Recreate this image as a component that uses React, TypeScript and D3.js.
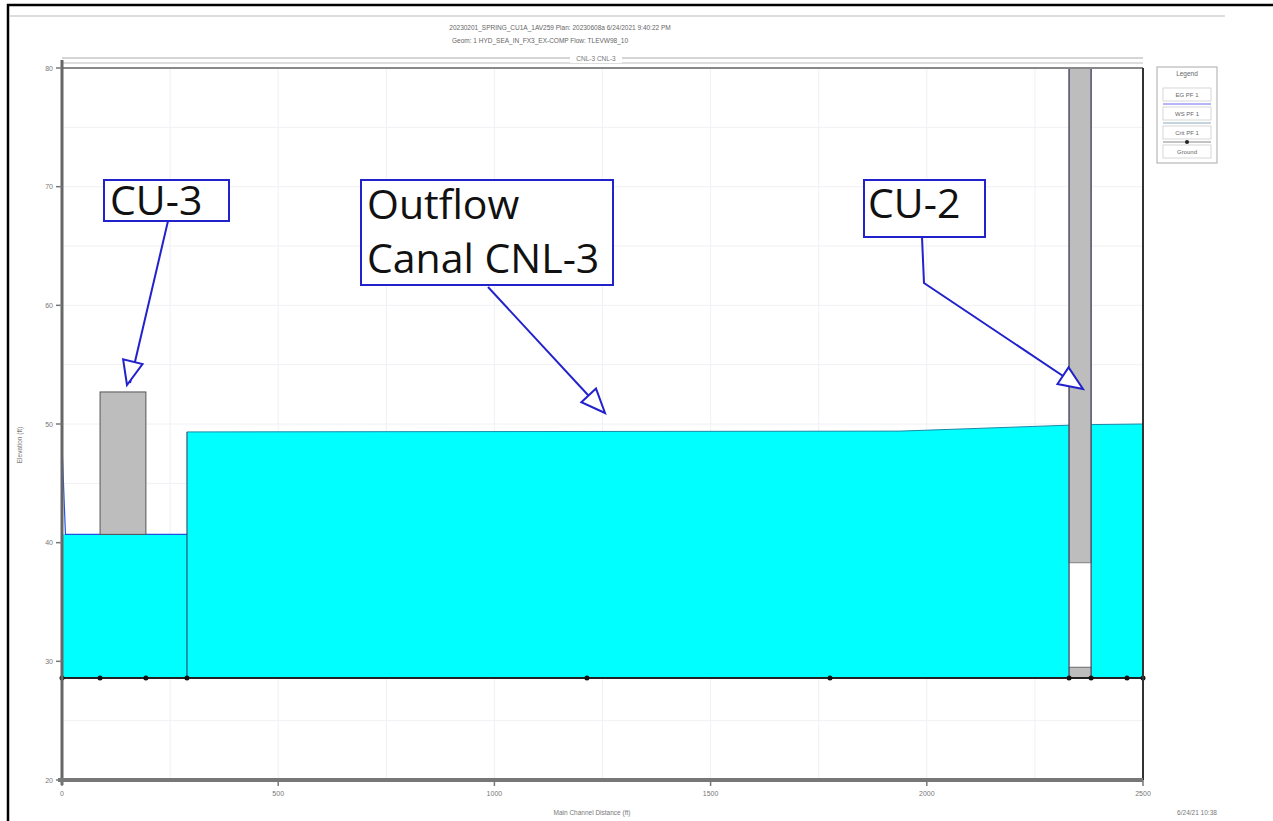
import React from "react";
import * as d3 from "d3";

const xTicks = [0, 500, 1000, 1500, 2000, 2500];
const yTicks = [20, 30, 40, 50, 60, 70, 80];
const groundStations = [0, 88, 194, 289, 1214, 1776, 2329, 2380, 2463, 2500];
const groundElev = [28.6, 28.6, 28.6, 28.6, 28.6, 28.6, 28.6, 28.6, 28.6, 28.6];
// water surface reaches [station, elevation]
const wsReach1: [number, number][] = [[0, 48.2], [8, 40.7], [289, 40.7]];
const wsReach2: [number, number][] = [[289, 49.33], [1938, 49.4], [2329, 49.9]];
const wsReach3: [number, number][] = [[2380, 49.95], [2500, 50.0]];
// structures
const cu3 = { x0: 88, x1: 194, bottom: 40.7, top: 52.7 };
const cu2 = { x0: 2329, x1: 2380, invert: 28.6, openBottom: 29.5, openTop: 38.3, top: 80 };
const legendItems = ["EG  PF 1", "WS  PF 1", "Crit  PF 1", "Ground"];
const titleLine1 = "20230201_SPRING_CU1A_1AV259        Plan: 20230608a     6/24/2021  9:40:22 PM";
const titleLine2 = "Geom: 1 HYD_SEA_IN_FX3_EX-COMP    Flow: TLEVW98_10";

export default function App() {
  const x = d3.scaleLinear().domain([0, 2500]).range([62, 1143]);
  const y = d3.scaleLinear().domain([20, 80]).range([780, 68]);
  const line = d3.line<[number, number]>().x(d => x(d[0])).y(d => y(d[1]));
  const ground = groundElev[0];
  const areaFill = (pts: [number, number][]) =>
    d3.area<[number, number]>().x(d => x(d[0])).y0(y(ground)).y1(d => y(d[1]))(
      pts[0][0] === 0 ? pts.slice(1).map((p, i) => (i === 0 ? [0, p[1]] as [number, number] : p)) : pts
    ) || "";
  const blue = "#2222cc";
  const minorX = d3.range(0, 2501, 250);
  const minorY = d3.range(20, 81, 5);

  const arrowHead = (tx: number, ty: number, fx: number, fy: number) => {
    const ang = Math.atan2(ty - fy, tx - fx);
    const L = 24, W = 10;
    const bx = tx - L * Math.cos(ang), by = ty - L * Math.sin(ang);
    const px = -Math.sin(ang), py = Math.cos(ang);
    return `M${tx},${ty} L${bx + W * px},${by + W * py} L${bx - W * px},${by - W * py} Z`;
  };

  return (
    <svg width={1273} height={821} style={{ position: "absolute", left: 0, top: 0, background: "#fff" }}
      fontFamily="Liberation Sans, Arial, sans-serif">
      <rect x={0} y={0} width={1273} height={821} fill="#fff" />
      {/* page frame */}
      <path d="M8,821 L8,5 L1273,5" fill="none" stroke="#000" strokeWidth={2.5} />
      <line x1={10} x2={1225} y1={16} y2={16} stroke="#bbb" strokeWidth={1} />
      <text x={560} y={30} fontSize={6.5} textAnchor="middle" fill="#666">{titleLine1}</text>
      <text x={540} y={43} fontSize={6.5} textAnchor="middle" fill="#666">{titleLine2}</text>

      {/* grid */}
      {minorX.map(v => (
        <line key={"gx" + v} x1={x(v)} x2={x(v)} y1={68} y2={780} stroke="#f0f0f6" strokeWidth={1} />
      ))}
      {minorY.map(v => (
        <line key={"gy" + v} x1={62} x2={1143} y1={y(v)} y2={y(v)} stroke="#f0f0f6" strokeWidth={1} />
      ))}

      {/* water */}
      <path d={areaFill(wsReach1)} fill="#00ffff" />
      <path d={areaFill(wsReach2)} fill="#00ffff" />
      <path d={areaFill(wsReach3)} fill="#00ffff" />
      <path d={line(wsReach1) || ""} fill="none" stroke="#2255dd" strokeWidth={1.2} />
      <path d={line(wsReach2) || ""} fill="none" stroke="#1a8aa8" strokeWidth={1} />
      <path d={line(wsReach3) || ""} fill="none" stroke="#1a8aa8" strokeWidth={1} />

      {/* CU-3 structure */}
      <rect x={x(cu3.x0)} y={y(cu3.top)} width={x(cu3.x1) - x(cu3.x0)} height={y(cu3.bottom) - y(cu3.top)}
        fill="#bdbdbd" stroke="#555" strokeWidth={1} />
      {/* CU-2 structure */}
      <rect x={x(cu2.x0)} y={y(cu2.top)} width={x(cu2.x1) - x(cu2.x0)} height={y(cu2.openTop) - y(cu2.top)}
        fill="#bdbdbd" stroke="#666" strokeWidth={1} />
      <rect x={x(cu2.x0)} y={y(cu2.openTop)} width={x(cu2.x1) - x(cu2.x0)} height={y(cu2.openBottom) - y(cu2.openTop)}
        fill="#fff" stroke="#888" strokeWidth={0.8} />
      <rect x={x(cu2.x0)} y={y(cu2.openBottom)} width={x(cu2.x1) - x(cu2.x0)} height={y(cu2.invert) - y(cu2.openBottom)}
        fill="#bdbdbd" stroke="#666" strokeWidth={0.8} />
      <line x1={x(289)} x2={x(289)} y1={y(wsReach2[0][1])} y2={y(ground)} stroke="#335" strokeWidth={1} />
      <line x1={x(2329)} x2={x(2329)} y1={y(80)} y2={y(ground)} stroke="#446" strokeWidth={1} />
      <line x1={x(2380)} x2={x(2380)} y1={y(80)} y2={y(ground)} stroke="#446" strokeWidth={1} />

      {/* ground */}
      <line x1={x(0)} x2={x(2500)} y1={y(ground)} y2={y(ground)} stroke="#222" strokeWidth={2} />
      {groundStations.map((s, i) => (
        <circle key={"g" + i} cx={x(s)} cy={y(groundElev[i])} r={2.5} fill="#111" />
      ))}

      {/* axes frame */}
      <line x1={62} x2={1143} y1={68} y2={68} stroke="#888" strokeWidth={2} />
      <line x1={62} x2={1143} y1={63} y2={63} stroke="#bbb" strokeWidth={1} />
      <line x1={1143} x2={1143} y1={68} y2={780} stroke="#333" strokeWidth={2} />
      <line x1={62} x2={62} y1={60} y2={785} stroke="#666" strokeWidth={3} />
      <line x1={58} x2={1143} y1={780} y2={780} stroke="#777" strokeWidth={4} />
      {/* reach label line */}
      <line x1={62} x2={1143} y1={58} y2={58} stroke="#aaa" strokeWidth={1} />
      <rect x={570} y={53} width={52} height={10} fill="#fff" />
      <text x={596} y={61} fontSize={6.5} textAnchor="middle" fill="#777">CNL-3 CNL-3</text>

      {/* ticks */}
      {yTicks.map(v => (
        <g key={"yt" + v}>
          <line x1={56} x2={62} y1={y(v)} y2={y(v)} stroke="#777" strokeWidth={1.5} />
          <text x={53} y={y(v) + 2.5} fontSize={7} textAnchor="end" fill="#777">{v}</text>
        </g>
      ))}
      {xTicks.map(v => (
        <g key={"xt" + v}>
          <line x1={x(v)} x2={x(v)} y1={780} y2={786} stroke="#777" strokeWidth={1.5} />
          <text x={x(v)} y={796} fontSize={7} textAnchor="middle" fill="#777">{v}</text>
        </g>
      ))}
      <text x={22} y={445} fontSize={6.5} textAnchor="middle" fill="#777" transform="rotate(-90 22 445)">Elevation (ft)</text>
      <text x={592} y={815} fontSize={6.5} textAnchor="middle" fill="#777">Main Channel Distance (ft)</text>
      <text x={1197} y={815} fontSize={6.5} textAnchor="middle" fill="#777">6/24/21 10:38</text>

      {/* legend */}
      <rect x={1157} y={67} width={60} height={96} fill="#fff" stroke="#aaa" strokeWidth={1} />
      <text x={1187} y={76} fontSize={6.5} textAnchor="middle" fill="#666">Legend</text>
      {legendItems.map((t, i) => (
        <g key={"lg" + i}>
          <rect x={1163} y={88 + i * 19} width={48} height={13} fill="#fff" stroke="#ccc" strokeWidth={0.8} />
          <text x={1187} y={97 + i * 19} fontSize={6} textAnchor="middle" fill="#666">{t}</text>
          {i < 3 && (
            <line x1={1163} x2={1211} y1={104 + i * 19} y2={104 + i * 19}
              stroke={i === 0 ? "#6a6af0" : i === 1 ? "#8ab" : "#888"} strokeWidth={1} />
          )}
        </g>
      ))}
      <circle cx={1187} cy={142} r={2} fill="#222" />

      {/* annotations */}
      <g fontFamily="Open Sans, Liberation Sans, sans-serif" fill="#111">
        <rect x={104} y={180} width={125} height={41} fill="#fff" stroke={blue} strokeWidth={2} />
        <text x={110} y={215} fontSize={41}>CU-3</text>
        <line x1={168} y1={221} x2={130} y2={383} stroke={blue} strokeWidth={2} />
        <path d={arrowHead(127, 385, 168, 221)} fill="#fff" stroke={blue} strokeWidth={2} />

        <rect x={361} y={180} width={252} height={105} fill="#fff" stroke={blue} strokeWidth={2} />
        <text x={367} y={219} fontSize={41}>Outflow</text>
        <text x={367} y={273} fontSize={41}>Canal CNL-3</text>
        <line x1={488} y1={287} x2={600} y2={408} stroke={blue} strokeWidth={2} />
        <path d={arrowHead(605, 413, 488, 287)} fill="#fff" stroke={blue} strokeWidth={2} />

        <rect x={864} y={180} width={121} height={57} fill="#fff" stroke={blue} strokeWidth={2} />
        <text x={868} y={218} fontSize={41}>CU-2</text>
        <polyline points="922,237 924,283 1078,386" fill="none" stroke={blue} strokeWidth={2} />
        <path d={arrowHead(1083, 389, 924, 283)} fill="#fff" stroke={blue} strokeWidth={2} />
      </g>
    </svg>
  );
}
